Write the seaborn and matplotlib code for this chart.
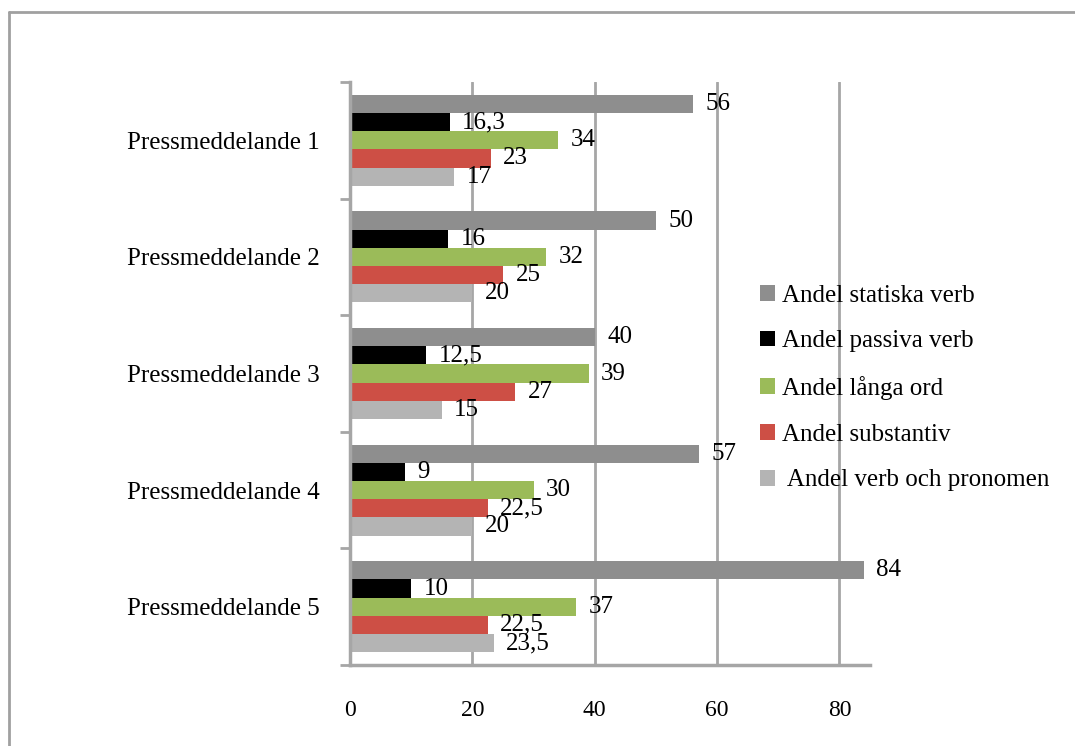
import numpy as np
import pandas as pd
import matplotlib.pyplot as plt
from matplotlib.lines import Line2D
import seaborn as sns

categories = ["Pressmeddelande 1", "Pressmeddelande 2", "Pressmeddelande 3",
              "Pressmeddelande 4", "Pressmeddelande 5"]
series = ["Andel statiska verb", "Andel passiva verb", "Andel långa ord",
          "Andel substantiv", " Andel verb och pronomen"]
statiska = [56, 50, 40, 57, 84]
passiva = [16.3, 16, 12.5, 9, 10]
langa = [34, 32, 39, 30, 37]
substantiv = [23, 25, 27, 22.5, 22.5]
verb_pron = [17, 20, 15, 20, 23.5]
colors = ["#8e8e8e", "#000000", "#9bbb59", "#cd4f45", "#b4b4b4"]

rows = []
for s, vals in zip(series, [statiska, passiva, langa, substantiv, verb_pron]):
    for c, v in zip(categories, vals):
        rows.append({"cat": c, "serie": s, "value": v})
df = pd.DataFrame(rows)

sns.set_style("white")
plt.rcParams['font.family'] = ['Liberation Serif', 'DejaVu Serif']
plt.rcParams['text.color'] = 'black'
plt.rcParams['xtick.color'] = 'black'
plt.rcParams['ytick.color'] = 'black'

fig = plt.figure(figsize=(10.75, 7.46), dpi=100)
ax = fig.add_axes([350 / 1075, 1 - 665 / 746, 520 / 1075, 583 / 746])

sns.barplot(data=df, x="value", y="cat", hue="serie", order=categories,
            hue_order=series, palette=colors, saturation=1, orient="h", width=0.78,
            edgecolor="none", ax=ax, legend=True)

for cont in ax.containers:
    labs = [f"{b.get_width():g}".replace(".", ",") for b in cont]
    ax.bar_label(cont, labels=labs, padding=9, fontsize=18, color="black")

ax.set_xlim(0, 85)
ax.set_ylim(4.5, -0.5)
ax.set_xticks([0, 20, 40, 60, 80])
ax.set_xlabel("")
ax.set_ylabel("")
ax.xaxis.grid(True, color="#a6a6a6", linewidth=2)
ax.set_axisbelow(True)
ax.tick_params(axis="x", labelsize=17, pad=25, length=0, labelcolor="black")
ax.tick_params(axis="y", labelsize=18, pad=22, length=0, labelcolor="black")
ax.set_yticks(np.arange(-0.5, 5, 1), minor=True)
ax.tick_params(axis="y", which="minor", length=7, width=2, color="#a6a6a6", left=True)
for side in ["top", "right"]:
    ax.spines[side].set_visible(False)
for side in ["left", "bottom"]:
    ax.spines[side].set_color("#a6a6a6")
    ax.spines[side].set_linewidth(2.5)

handles, labels = ax.get_legend_handles_labels()
ax.legend(handles, labels, loc="center left", bbox_to_anchor=(737 / 1075, 1 - 388 / 746),
          bbox_transform=fig.transFigure, frameon=False, fontsize=18,
          handlelength=0.6, handleheight=0.6, handletextpad=0.3, labelspacing=0.95)

fig.add_artist(Line2D([9 / 1075, 9 / 1075], [0, 1 - 12 / 746], transform=fig.transFigure,
                      color="#a0a0a0", linewidth=2))
fig.add_artist(Line2D([9 / 1075, 1], [1 - 12 / 746, 1 - 12 / 746], transform=fig.transFigure,
                      color="#a0a0a0", linewidth=2))

fig.savefig("out.png", dpi=100)
